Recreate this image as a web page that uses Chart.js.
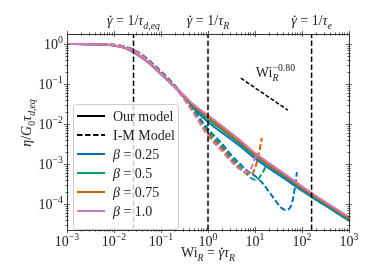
<!DOCTYPE html>
<html>
<head>
<meta charset="utf-8">
<script src="https://cdn.jsdelivr.net/npm/chart.js@4"></script>
<style>
  html, body { margin: 0; padding: 0; background: #fff; }
  canvas { display: block; }
</style>
</head>
<body>
<canvas id="chart" width="374" height="280"></canvas>
<script>
// Our model (solid) - Wi_R grid and eta / G0 tau_d,eq per beta
const ourWi = [0.001, 0.003, 0.01, 0.02, 0.03, 0.05, 0.1, 0.2, 0.3, 0.5, 1, 2, 5, 10, 20, 50, 100, 200, 500, 1000];
const ourBeta025 = [1, 0.989, 0.912, 0.741, 0.562, 0.372, 0.178, 0.0822, 0.0495, 0.0245, 0.0112, 0.00603, 0.00269, 0.00138, 0.000776, 0.00038, 0.000214, 0.000126, 6.46e-5, 3.80e-5];
const ourBeta05 = [1, 0.989, 0.912, 0.741, 0.562, 0.372, 0.178, 0.0832, 0.0513, 0.0269, 0.0132, 0.00708, 0.00309, 0.00158, 0.000881, 0.000427, 0.000237, 0.000138, 6.92e-5, 4.07e-5];
const ourBeta075 = [1, 0.989, 0.912, 0.741, 0.562, 0.372, 0.178, 0.0841, 0.0525, 0.0285, 0.0148, 0.00794, 0.00343, 0.00174, 0.000955, 0.000462, 0.000254, 0.000148, 7.41e-5, 4.37e-5];
const ourBeta1 = [1, 0.989, 0.912, 0.741, 0.562, 0.372, 0.178, 0.0851, 0.0537, 0.0302, 0.0166, 0.00891, 0.0038, 0.00191, 0.00105, 0.000501, 0.000275, 0.000158, 7.94e-5, 4.68e-5];

// I-M model (dashed), each one stops where it blows up
const imBeta025Wi = [0.001, 0.003, 0.01, 0.02, 0.03, 0.05, 0.1, 0.2, 0.3, 0.5, 1, 2, 3, 5, 7, 10, 15, 20, 25, 30, 35, 45, 55, 62, 70, 78];
const imBeta025 = [1, 0.993, 0.955, 0.813, 0.661, 0.437, 0.209, 0.0912, 0.0501, 0.0224, 0.00759, 0.00316, 0.00178, 0.000955, 0.000661, 0.000501, 0.000316, 0.0002, 0.000141, 0.000105, 8.32e-5, 7.08e-5, 7.94e-5, 0.000112, 0.00024, 0.000631];
const imBeta05Wi = [0.001, 0.003, 0.01, 0.02, 0.03, 0.05, 0.1, 0.2, 0.3, 0.5, 1, 2, 3, 5, 7, 9, 11, 13, 16, 18];
const imBeta05 = [1, 0.993, 0.955, 0.804, 0.653, 0.427, 0.2, 0.0871, 0.0479, 0.0209, 0.00661, 0.00269, 0.00151, 0.000794, 0.000537, 0.000417, 0.000398, 0.000501, 0.000759, 0.00107];
const imBeta075Wi = [0.001, 0.003, 0.01, 0.02, 0.03, 0.05, 0.1, 0.2, 0.3, 0.5, 1, 2, 3, 5, 7, 8.5, 10, 11, 12, 13, 14];
const imBeta075 = [1, 0.993, 0.955, 0.794, 0.646, 0.417, 0.195, 0.0851, 0.0457, 0.0195, 0.00575, 0.0024, 0.00135, 0.000724, 0.000575, 0.000562, 0.000794, 0.00112, 0.00178, 0.00282, 0.00447];
const imBeta1Wi = [0.001, 0.003, 0.01, 0.02, 0.03, 0.05, 0.1, 0.2, 0.3, 0.5, 1, 2, 3, 5, 6, 7.5, 8.5, 9.5, 11];
const imBeta1 = [1, 0.993, 0.955, 0.785, 0.638, 0.407, 0.191, 0.0813, 0.0437, 0.0182, 0.00501, 0.00209, 0.0012, 0.000708, 0.000631, 0.000661, 0.000832, 0.0012, 0.00178];

// vertical markers: gamma_dot = 1/tau
const markerWi = [0.026, 1, 160];
const markerSub = ["d,eq", "R", "e"];

// slope guide Wi^-0.80
const guideWi = [5, 50];
const guideEta = [0.14, 0.0222];

// axis ticks (decades)
const xTickExp = [-3, -2, -1, 0, 1, 2, 3];
const yTickExp = [-4, -3, -2, -1, 0];

const betaLabels = ["0.25", "0.5", "0.75", "1.0"];
const colors = ["#0173b2", "#029e73", "#d55e00", "#cc78bc"];

const SERIF = "'Liberation Serif', 'DejaVu Serif', serif";
const TEXT = "#222";
const AXIS = "#333";
const FS = 14;

const pts = (xs, ys) => xs.map((x, i) => ({ x: x, y: ys[i] }));

const ourSets = [ourBeta025, ourBeta05, ourBeta075, ourBeta1];
const imSets = [[imBeta025Wi, imBeta025], [imBeta05Wi, imBeta05], [imBeta075Wi, imBeta075], [imBeta1Wi, imBeta1]];

// built bottom -> top, reversed at the end since chart.js paints the first dataset last
const layers = [];
for (let i = 0; i < 4; i++) {
  layers.push({
    data: pts(ourWi, ourSets[i]),
    borderColor: colors[i], borderWidth: 2, pointRadius: 0, fill: false,
    cubicInterpolationMode: "monotone"
  });
  layers.push({
    data: pts(imSets[i][0], imSets[i][1]),
    borderColor: colors[i], borderWidth: 2, borderDash: [6, 2.6], pointRadius: 0, fill: false,
    cubicInterpolationMode: "monotone"
  });
}
markerWi.forEach(w => {
  layers.push({
    data: [{ x: w, y: 2.24e-5 }, { x: w, y: 1.78 }],
    borderColor: "#000", borderWidth: 1.5, borderDash: [5.5, 2.5],
    pointRadius: 0, fill: false
  });
});
layers.push({
  data: pts(guideWi, guideEta),
  borderColor: "#000", borderWidth: 1.5, borderDash: [4, 2], pointRadius: 0, fill: false
});
const datasets = layers.slice().reverse();

// draw text made of pieces: {t, it, sub, sup, keep, dot}
function rich(ctx, parts, x, y, size, align) {
  const fontOf = p => (p.it ? "italic " : "") + ((p.sub || p.sup) ? size * 0.7 : size) + "px " + SERIF;
  let w = 0;
  parts.forEach(p => {
    ctx.font = fontOf(p);
    if (!p.keep) w += ctx.measureText(p.t).width;
  });
  let cx = align === "center" ? x - w / 2 : align === "right" ? x - w : x;
  ctx.textAlign = "left";
  ctx.textBaseline = "alphabetic";
  parts.forEach(p => {
    ctx.font = fontOf(p);
    const dy = p.sub ? size * 0.25 : p.sup ? -size * 0.42 : 0;
    ctx.fillText(p.t, cx, y + dy);
    const pw = ctx.measureText(p.t).width;
    if (p.dot) {
      ctx.beginPath();
      ctx.arc(cx + pw * 0.62, y - size * 0.62, size * 0.065, 0, Math.PI * 2);
      ctx.fill();
    }
    if (!p.keep) cx += pw;
  });
}

function seg(ctx, x1, y1, x2, y2) {
  ctx.beginPath();
  ctx.moveTo(x1, y1);
  ctx.lineTo(x2, y2);
  ctx.stroke();
}

const decor = {
  id: "decor",
  beforeDraw(chart) {
    const ctx = chart.ctx;
    ctx.save();
    ctx.fillStyle = "#fff";
    ctx.fillRect(0, 0, chart.width, chart.height);
    ctx.restore();
  },
  afterDatasetsDraw(chart) {
    const ctx = chart.ctx;
    const { left, right, top, bottom } = chart.chartArea;
    const xs = chart.scales.x, ys = chart.scales.y;
    ctx.save();

    // frame
    ctx.strokeStyle = AXIS;
    ctx.lineWidth = 1;
    ctx.strokeRect(Math.round(left) + 0.5, Math.round(top) + 0.5, Math.round(right - left), Math.round(bottom - top));

    // ticks, in-out on all four sides
    ctx.lineWidth = 0.8;
    for (let d = -3; d <= 3; d++) {
      for (let k = 1; k <= 9; k++) {
        const v = k * Math.pow(10, d);
        if (v > 1000.5) continue;
        const px = Math.round(xs.getPixelForValue(v)) + 0.5;
        const len = k === 1 ? 3 : 1.6;
        seg(ctx, px, bottom - len, px, bottom + len);
        seg(ctx, px, top - len, px, top + len);
      }
    }
    for (let d = -5; d <= 0; d++) {
      for (let k = 1; k <= 9; k++) {
        const v = k * Math.pow(10, d);
        if (v < ys.min || v > ys.max) continue;
        const py = Math.round(ys.getPixelForValue(v)) + 0.5;
        const len = k === 1 ? 3 : 1.6;
        seg(ctx, left - len, py, left + len, py);
        seg(ctx, right - len, py, right + len, py);
      }
    }

    // tick labels
    ctx.fillStyle = TEXT;
    xTickExp.forEach(e => {
      const px = xs.getPixelForValue(Math.pow(10, e));
      rich(ctx, [{ t: "10" }, { t: (e < 0 ? "\u2212" : "") + Math.abs(e), sup: true }], px, bottom + 16, FS, "center");
    });
    yTickExp.forEach(e => {
      const py = ys.getPixelForValue(Math.pow(10, e));
      rich(ctx, [{ t: "10" }, { t: (e < 0 ? "\u2212" : "") + Math.abs(e), sup: true }], left - 4, py + 4.5, FS, "right");
    });

    // axis labels
    rich(ctx, [{ t: "Wi" }, { t: "R", it: true, sub: true }, { t: " = " }, { t: "\u03b3", it: true, dot: true }, { t: "\u03c4", it: true }, { t: "R", it: true, sub: true }],
      (left + right) / 2, 257, FS, "center");
    ctx.save();
    ctx.translate(31, 123);
    ctx.rotate(-Math.PI / 2);
    rich(ctx, [{ t: "\u03b7", it: true }, { t: "/" }, { t: "G", it: true }, { t: "0", sub: true }, { t: "\u03c4", it: true }, { t: "d,eq", it: true, sub: true }],
      0, 0, FS, "center");
    ctx.restore();

    // labels above the markers
    markerWi.forEach((w, i) => {
      const px = xs.getPixelForValue(w);
      rich(ctx, [{ t: "\u03b3", it: true, dot: true }, { t: " = 1/" }, { t: "\u03c4", it: true }, { t: markerSub[i], it: true, sub: true }],
        px, 25, FS, "center");
    });

    // slope guide label
    rich(ctx, [{ t: "Wi" }, { t: "R", it: true, sub: true, keep: true }, { t: "\u22120.80", sup: true }],
      xs.getPixelForValue(guideWi[0]) + 15, ys.getPixelForValue(guideEta[0]) - 1, FS, "left");

    // legend
    const lx = 73, ly = 104, lw = 105, lh = 125;
    ctx.beginPath();
    ctx.roundRect(lx + 0.5, ly + 0.5, lw, lh, 3);
    ctx.fillStyle = "rgba(255,255,255,0.8)";
    ctx.fill();
    ctx.strokeStyle = "#cccccc";
    ctx.lineWidth = 1;
    ctx.stroke();
    const rows = [
      { color: "#000", dash: [], parts: [{ t: "Our model" }] },
      { color: "#000", dash: [5.5, 2.5], parts: [{ t: "I-M Model" }] }
    ];
    betaLabels.forEach((b, i) => rows.push({ color: colors[i], dash: [], parts: [{ t: "\u03b2", it: true }, { t: " = " + b }] }));
    rows.forEach((r, i) => {
      const y = 116 + i * 19;
      ctx.strokeStyle = r.color;
      ctx.lineWidth = 2;
      ctx.setLineDash(r.dash);
      seg(ctx, 77, y, 105, y);
      ctx.setLineDash([]);
      ctx.fillStyle = TEXT;
      rich(ctx, r.parts, 113, y + 4.5, FS, "left");
    });

    ctx.restore();
  }
};

new Chart(document.getElementById("chart"), {
  type: "line",
  data: { datasets: datasets },
  options: {
    responsive: false,
    animation: false,
    devicePixelRatio: 1,
    layout: { padding: { left: 67, right: 25, top: 34, bottom: 50 } },
    plugins: { legend: { display: false }, tooltip: { enabled: false } },
    scales: {
      x: { type: "logarithmic", min: 1e-3, max: 1e3, display: false },
      y: { type: "logarithmic", min: 2.24e-5, max: 1.78, display: false }
    }
  },
  plugins: [decor]
});
</script>
</body>
</html>
